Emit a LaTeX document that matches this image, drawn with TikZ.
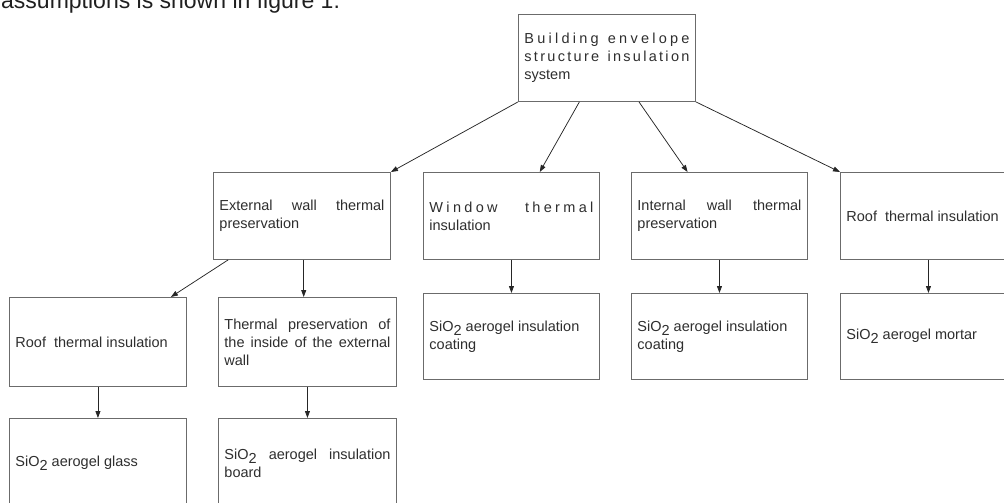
\documentclass[tikz,border=0pt]{standalone}
\usepackage{fontspec}
\setmainfont{Liberation Sans}
\usetikzlibrary{calc,arrows.meta}
\makeatletter
\newcommand\spreadword[1]{\@tfor\sp@ltr:=#1\do{\sp@ltr\hskip 0pt plus 1fil}\unskip}
\makeatother
\newcommand\spreadline[1]{\makebox[\hsize][s]{#1}\par}
\newcommand\wsp{\hskip 6pt plus 1fil}
\newcommand\sio{SiO\raisebox{-4pt}{2}}
\newcommand\blkpar{\parindent 0pt\hyphenpenalty 10000\tolerance 10000\relax}
\tikzset{
  blk/.style={draw=black!58, line width=0.9pt, rectangle, anchor=north west, align=justify,
    inner xsep=6pt, inner ysep=0pt, minimum height=87pt, text=black!82,
    font=\fontsize{14.5}{18}\selectfont\blkpar},
  con/.style={->, draw=black!85, line width=0.75pt}
}
\begin{document}
\begin{tikzpicture}[>={Triangle[length=7pt,width=5pt]},x=1pt,y=-1pt]
		\useasboundingbox (0,0) rectangle (1004,503);
		\clip (0,0) rectangle (1004,503);
		\node[anchor=base west, inner sep=0pt, text=black!88, font=\fontsize{23}{23}\selectfont] (cap) at (1,9) {assumptions is shown in figure 1.};
		% top level
		\node[blk, text width=165pt] (sys) at (518,14) {\spreadline{\spreadword{Building}\wsp\spreadword{envelope}}\spreadline{\spreadword{structure}\wsp\spreadword{insulation}}system};
		% second level
		\node[blk, text width=165pt] (ext) at (213,172) {External wall thermal\linebreak preservation};
		\node[blk, text width=164pt] (win) at (423,172) {\spreadline{\spreadword{Window}\hskip 24pt plus 1fil\spreadword{thermal}}insulation};
		\node[blk, text width=164pt] (inw) at (631,172) {Internal wall thermal\linebreak preservation};
		\node[blk, text width=164pt] (roof) at (840,172) {Roof~ thermal insulation};
		% third level
		\node[blk, text width=165pt, minimum height=89pt] (roofa) at (9,297) {Roof~ thermal insulation};
		\node[blk, text width=166pt, minimum height=89pt] (inside) at (218,297) {Thermal preservation of\linebreak the inside of the external\linebreak wall};
		\node[blk, text width=164pt, minimum height=86pt] (coatw) at (423,293) {\sio{} aerogel insulation\par coating};
		\node[blk, text width=164pt, minimum height=86pt] (coati) at (631,293) {\sio{} aerogel insulation\par coating};
		\node[blk, text width=164pt, minimum height=86pt] (mortar) at (840,293) {\sio{} aerogel mortar};
		% bottom level
		\node[blk, text width=165pt, minimum height=89pt] (glass) at (9,418) {\sio{} aerogel glass};
		\node[blk, text width=166pt, minimum height=89pt] (board) at (218,418) {\sio{} aerogel insulation\linebreak board};
		% connectors
		\coordinate (e2) at ($(ext.south west)!.51!(ext.south east)$);
		\draw[con] (sys.south west) -- (ext.north east);
		\draw[con] ($(sys.south west)!.345!(sys.south east)$) -- ($(win.north west)!.66!(win.north east)$);
		\draw[con] ($(sys.south west)!.68!(sys.south east)$) -- ($(inw.north west)!.32!(inw.north east)$);
		\draw[con] (sys.south east) -- (roof.north west);
		\draw[con] ($(ext.south west)!.085!(ext.south east)$) -- ($(roofa.north west)!.91!(roofa.north east)$);
		\draw[con] (e2) -- (e2 |- inside.north);
		\foreach \a/\b in {roofa/glass, inside/board, win/coatw, inw/coati, roof/mortar}
			\draw[con] (\a) -- (\b);
\end{tikzpicture}
\end{document}
